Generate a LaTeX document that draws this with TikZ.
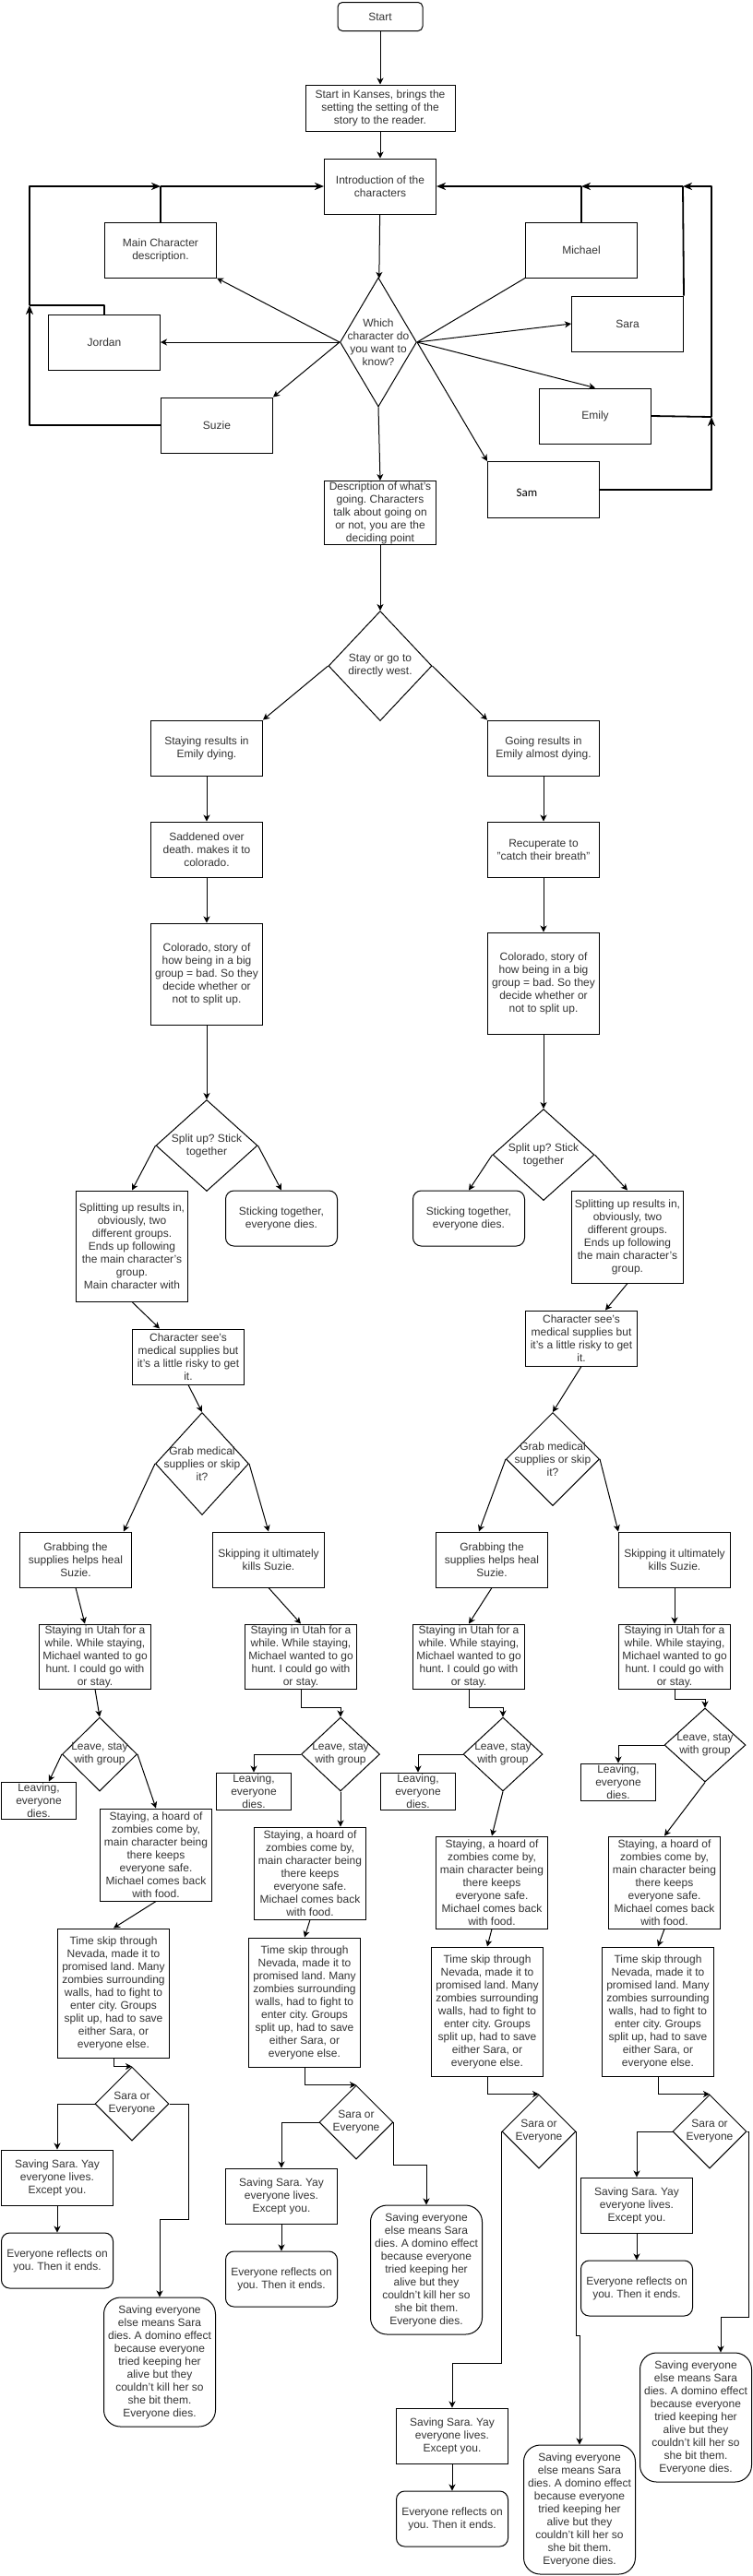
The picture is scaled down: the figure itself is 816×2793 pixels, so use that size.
\documentclass[tikz,border=0pt]{standalone}
\usepackage{fontspec}
\setmainfont{Liberation Sans}
\newfontfamily\samfont{Carlito}
\usetikzlibrary{shapes.geometric,arrows.meta}
\frenchspacing

\begin{document}
\begin{tikzpicture}[x=1pt,y=-1pt,line width=1pt,every node/.style={font=\bxfont,text=black!80},
        box/.style={draw,inner sep=0pt,minimum width=121pt,minimum height=60pt,align=center},
        rbox/.style={box,rounded corners=9pt},
        bigbox/.style={box,rounded corners=18pt,minimum height=140pt},
        dia/.style={draw,shape=diamond,inner sep=0pt},
        lab/.style={align=center},
        flow/.style={-{Stealth[length=7pt,width=7pt,inset=2pt]}},
        loopline/.style={line width=1.8pt,line join=round},
        loopflow/.style={loopline,-{Stealth[length=10pt,width=8pt,inset=3pt]}}]

\def\bxfont{\fontsize{12}{14}\selectfont}
\useasboundingbox (0,0) rectangle (816,2793);

        \node[rbox,minimum width=92pt,minimum height=31pt,rounded corners=5pt] (start) at (412,18) {Start};
        \node[box,minimum width=162pt,minimum height=50pt] (kanses) at (412,117) {Start in Kanses, brings the\\setting the setting of the\\story to the reader.};
        \node[box] (intro) at (412,202) {Introduction of the\\characters};
        \node[dia,minimum width=83pt,minimum height=140pt,label={[lab]center:{Which\\character do\\you want to\\know?}}] (which) at (410,371) {};
        \node[box] (maindesc) at (174,271) {Main Character\\description.};
        \node[box] (michael) at (630,271) {Michael};
        \node[box] (jordan) at (113,371) {Jordan};
        \node[box] (sara) at (680,351) {Sara};
        \node[box] (suzie) at (235,461) {Suzie};
        \node[box] (emily) at (645,451) {Emily};
        \node[box,minimum height=61pt,label={[lab,font=\samfont\fontsize{13}{15}\selectfont,text=black,xshift=-18pt,yshift=-3pt]center:Sam}] (sam) at (589,531) {};
        \node[box,minimum height=69pt] (desc) at (412,556) {Description of what's\\going. Characters\\talk about going on\\or not, you are the\\deciding point};

        \coordinate (lbot) at (32,461);
        \coordinate (ljoin) at (32,331);
        \coordinate (ltop) at (32,202);
        \coordinate (mjoin) at (174,202);
        \coordinate (rbot) at (771,531);
        \coordinate (rjoin) at (771,452);
        \coordinate (rtop) at (771,202);
        \coordinate (sjoin) at (740,202);
        \coordinate (mijoin) at (630,202);

        \draw[flow] (start) -- (kanses);
        \draw[flow] (kanses) -- (intro);
        \draw[flow] (intro) -- (which);
        \draw[flow] (which.west) -- (maindesc.south east);
        \draw[flow] (which.west) -- (jordan.east);
        \draw[flow] (which.west) -- (suzie.north east);
        \draw[flow] (which.south) -- (desc.north);
        \draw (which.east) -- (michael.south west);
        \draw[flow] (which.east) -- (sara.west);
        \draw[flow] (which.east) -- (emily.north);
        \draw[flow] (which.east) -- (sam.north west);

        \draw[loopflow] (suzie.west) -- (lbot) -- (ljoin);
        \draw[loopline] (jordan.north) |- (ljoin);
        \draw[loopflow] (ljoin) -- (ltop) -- (mjoin);
        \draw[loopline] (maindesc.north) -- (mjoin);
        \draw[loopflow] (mjoin) -- (intro.west);
        \draw[loopflow] (sam.east) -- (rbot) -- (rjoin);
        \draw[loopline] (emily.east) -- (rjoin);
        \draw[loopflow] (rjoin) -- (rtop) -- (sjoin);
        \draw[loopline] (sara.north east) -- (sjoin);
        \draw[loopflow] (sjoin) -- (mijoin);
        \draw[loopline] (michael.north) -- (mijoin);
        \draw[loopflow] (mijoin) -- (intro.east);

        \node[dia,minimum width=112pt,minimum height=119pt,label={[lab]center:{Stay or go to\\directly west.}}] (stay) at (412,722) {};
        \node[box] (staying) at (224,811) {Staying results in\\Emily dying.};
        \node[box] (going) at (589,811) {Going results in\\Emily almost dying.};
        \node[box] (sadden) at (224,921) {Saddened over\\death. makes it to\\colorado.};
        \node[box] (recup) at (589,921) {Recuperate to\\"catch their breath"};
        \node[box,minimum height=110pt] (colL) at (224,1056) {Colorado, story of\\how being in a big\\group = bad. So they\\decide whether or\\not to split up.};
        \node[box,minimum height=110pt] (colR) at (589,1066) {Colorado, story of\\how being in a big\\group = bad. So they\\decide whether or\\not to split up.};
        \node[dia,minimum width=110pt,minimum height=99pt,label={[lab]center:{Split up? Stick\\together}}] (splitL) at (224,1242) {};
        \node[dia,minimum width=110pt,minimum height=99pt,label={[lab]center:{Split up? Stick\\together}}] (splitR) at (589,1252) {};
        \node[box,minimum height=120pt] (splittingL) at (143,1351) {Splitting up results in,\\obviously, two\\different groups.\\Ends up following\\the main character's\\group.\\Main character with};
        \node[rbox] (stickL) at (305,1321) {Sticking together,\\everyone dies.};
        \node[rbox] (stickR) at (508,1321) {Sticking together,\\everyone dies.};
        \node[box,minimum height=100pt] (splittingR) at (680,1341) {Splitting up results in,\\obviously, two\\different groups.\\Ends up following\\the main character's\\group.};
        \node[box] (seeL) at (204,1471) {Character see's\\medical supplies but\\it's a little risky to get\\it.};
        \node[box] (seeR) at (630,1451) {Character see's\\medical supplies but\\it's a little risky to get\\it.};

        \draw[flow] (desc) -- (stay);
        \draw[flow] (stay.west) -- (staying.north east);
        \draw[flow] (stay.east) -- (going.north west);
        \draw[flow] (staying) -- (sadden);
        \draw[flow] (sadden) -- (colL);
        \draw[flow] (going) -- (recup);
        \draw[flow] (recup) -- (colR);
        \draw[flow] (colL) -- (splitL);
        \draw[flow] (colR) -- (splitR);
        \draw[flow] (splitL.west) -- (splittingL.north);
        \draw[flow] (splitL.east) -- (stickL.north);
        \draw[flow] (splitR.west) -- (stickR.north);
        \draw[flow] (splitR.east) -- (splittingR.north);
        \draw[flow] (splittingL.south) -- ([xshift=-31pt]seeL.north);
        \draw[flow] (splittingR.south) -- ([xshift=26pt]seeR.north);

        \node[dia,minimum width=101pt,minimum height=111pt,label={[lab]center:{Grab medical\\supplies or skip\\it?}}] (grabL) at (219,1587) {};
        \node[dia,minimum width=101pt,minimum height=101pt,label={[lab]center:{Grab medical\\supplies or skip\\it?}}] (grabR) at (599,1582) {};
        \node[box] (grabbingL) at (82,1691) {Grabbing the\\supplies helps heal\\Suzie.};
        \node[box] (skipL) at (291,1691) {Skipping it ultimately\\kills Suzie.};
        \node[box] (grabbingR) at (533,1691) {Grabbing the\\supplies helps heal\\Suzie.};
        \node[box] (skipR) at (731,1691) {Skipping it ultimately\\kills Suzie.};
        \node[box,minimum height=70pt] (utah1) at (103,1796) {Staying in Utah for a\\while. While staying,\\Michael wanted to go\\hunt. I could go with\\or stay.};
        \node[box,minimum height=70pt] (utah2) at (326,1796) {Staying in Utah for a\\while. While staying,\\Michael wanted to go\\hunt. I could go with\\or stay.};
        \node[box,minimum height=70pt] (utah3) at (508,1796) {Staying in Utah for a\\while. While staying,\\Michael wanted to go\\hunt. I could go with\\or stay.};
        \node[box,minimum height=70pt] (utah4) at (731,1796) {Staying in Utah for a\\while. While staying,\\Michael wanted to go\\hunt. I could go with\\or stay.};
        \node[dia,minimum width=81pt,minimum height=80pt,label={[lab]center:{Leave, stay\\with group}}] (leave1) at (108,1902) {};
        \node[dia,minimum width=85pt,minimum height=80pt,label={[lab]center:{Leave, stay\\with group}}] (leave2) at (369,1902) {};
        \node[dia,minimum width=86pt,minimum height=80pt,label={[lab]center:{Leave, stay\\with group}}] (leave3) at (545,1902) {};
        \node[dia,minimum width=88pt,minimum height=80pt,label={[lab]center:{Leave, stay\\with group}}] (leave4) at (764,1892) {};
        \node[box,minimum width=81pt,minimum height=40pt] (lv1) at (42,1952) {Leaving,\\everyone\\dies.};
        \node[box,minimum width=81pt,minimum height=40pt] (lv2) at (275,1942) {Leaving,\\everyone\\dies.};
        \node[box,minimum width=81pt,minimum height=40pt] (lv3) at (453,1942) {Leaving,\\everyone\\dies.};
        \node[box,minimum width=81pt,minimum height=40pt] (lv4) at (670,1932) {Leaving,\\everyone\\dies.};

        \draw[flow] (seeL.south) -- (grabL.north);
        \draw[flow] (seeR.south) -- (grabR.north);
        \draw[flow] (grabL.west) -- ([xshift=52pt]grabbingL.north);
        \draw[flow] (grabL.east) -- (skipL.north);
        \draw[flow] (grabR.west) -- ([xshift=-14pt]grabbingR.north);
        \draw[flow] (grabR.east) -- (skipR.north west);
        \draw[flow] (grabbingL.south) -- ([xshift=-11pt]utah1.north);
        \draw[flow] (skipL.south) -- (utah2.north);
        \draw[flow] (grabbingR.south) -- (utah3.north);
        \draw[flow] (skipR.south) -- (utah4.north);
        \draw[flow] (utah1.south) -- (leave1.north);
        \draw[flow] (utah2.south) -- ++(0,20) -| (leave2.north);
        \draw[flow] (utah3.south) -- ++(0,20) -| (leave3.north);
        \draw[flow] (utah4.south) -- ++(0,11) -| (leave4.north);
        \draw[flow] (leave1.west) -- ([xshift=11pt]lv1.north);
        \draw[flow] (leave2.west) -| (lv2.north);
        \draw[flow] (leave3.west) -| (lv3.north);
        \draw[flow] (leave4.west) -| (lv4.north);

        \node[box,minimum height=100pt] (hoard1) at (169,2011) {Staying, a hoard of\\zombies come by,\\main character being\\there keeps\\everyone safe.\\Michael comes back\\with food.};
        \node[box,minimum height=100pt] (hoard2) at (336,2031) {Staying, a hoard of\\zombies come by,\\main character being\\there keeps\\everyone safe.\\Michael comes back\\with food.};
        \node[box,minimum height=100pt] (hoard3) at (533,2041) {Staying, a hoard of\\zombies come by,\\main character being\\there keeps\\everyone safe.\\Michael comes back\\with food.};
        \node[box,minimum height=100pt] (hoard4) at (720,2041) {Staying, a hoard of\\zombies come by,\\main character being\\there keeps\\everyone safe.\\Michael comes back\\with food.};
        \node[box,minimum height=140pt] (time1) at (123,2161) {Time skip through\\Nevada, made it to\\promised land. Many\\zombies surrounding\\walls, had to fight to\\enter city. Groups\\split up, had to save\\either Sara, or\\everyone else.};
        \node[box,minimum height=140pt] (time2) at (330,2171) {Time skip through\\Nevada, made it to\\promised land. Many\\zombies surrounding\\walls, had to fight to\\enter city. Groups\\split up, had to save\\either Sara, or\\everyone else.};
        \node[box,minimum height=140pt] (time3) at (528,2181) {Time skip through\\Nevada, made it to\\promised land. Many\\zombies surrounding\\walls, had to fight to\\enter city. Groups\\split up, had to save\\either Sara, or\\everyone else.};
        \node[box,minimum height=140pt] (time4) at (713,2181) {Time skip through\\Nevada, made it to\\promised land. Many\\zombies surrounding\\walls, had to fight to\\enter city. Groups\\split up, had to save\\either Sara, or\\everyone else.};

        \draw[flow] (leave1.east) -- (hoard1.north);
        \draw[flow] (leave2.south) -- (leave2.south |- hoard2.north);
        \draw[flow] (leave3.south) -- (hoard3.north);
        \draw[flow] (leave4.south) -- (hoard4.north);
        \draw[flow] (hoard1.south) -- (time1.north);
        \draw[flow] (hoard2.south) -- (time2.north);
        \draw[flow] (hoard3.south) -- (time3.north);
        \draw[flow] (hoard4.south) -- (time4.north);

        \node[dia,minimum width=80pt,minimum height=80pt,label={[lab]center:{Sara or\\Everyone}}] (sara1) at (143,2281) {};
        \node[dia,minimum width=80pt,minimum height=80pt,label={[lab]center:{Sara or\\Everyone}}] (sara2) at (386,2301) {};
        \node[dia,minimum width=80pt,minimum height=80pt,label={[lab]center:{Sara or\\Everyone}}] (sara3) at (584,2311) {};
        \node[dia,minimum width=80pt,minimum height=80pt,label={[lab]center:{Sara or\\Everyone}}] (sara4) at (769,2311) {};
        \node[box] (savesara1) at (62,2361) {Saving Sara. Yay\\everyone lives.\\Except you.};
        \node[box] (savesara2) at (305,2381) {Saving Sara. Yay\\everyone lives.\\Except you.};
        \node[box] (savesara3) at (490,2641) {Saving Sara. Yay\\everyone lives.\\Except you.};
        \node[box] (savesara4) at (690,2391) {Saving Sara. Yay\\everyone lives.\\Except you.};
        \node[rbox] (reflect1) at (62,2451) {Everyone reflects on\\you. Then it ends.};
        \node[rbox] (reflect2) at (305,2471) {Everyone reflects on\\you. Then it ends.};
        \node[rbox] (reflect3) at (490,2731) {Everyone reflects on\\you. Then it ends.};
        \node[rbox] (reflect4) at (690,2481) {Everyone reflects on\\you. Then it ends.};
        \node[bigbox] (saveall1) at (173,2561) {Saving everyone\\else means Sara\\dies. A domino effect\\because everyone\\tried keeping her\\alive but they\\couldn't kill her so\\she bit them.\\Everyone dies.};
        \node[bigbox] (saveall2) at (462,2461) {Saving everyone\\else means Sara\\dies. A domino effect\\because everyone\\tried keeping her\\alive but they\\couldn't kill her so\\she bit them.\\Everyone dies.};
        \node[bigbox] (saveall3) at (628,2721) {Saving everyone\\else means Sara\\dies. A domino effect\\because everyone\\tried keeping her\\alive but they\\couldn't kill her so\\she bit them.\\Everyone dies.};
        \node[bigbox] (saveall4) at (754,2621) {Saving everyone\\else means Sara\\dies. A domino effect\\because everyone\\tried keeping her\\alive but they\\couldn't kill her so\\she bit them.\\Everyone dies.};

        \draw[flow] (time1.south) |- (sara1.north);
        \draw[flow] (time2.south) |- (sara2.north);
        \draw[flow] (time3.south) |- (sara3.north);
        \draw[flow] (time4.south) |- (sara4.north);
        \draw[flow] (sara1.west) -| (savesara1.north);
        \draw[flow] (sara2.west) -| (savesara2.north);
        \draw[flow] (sara3.west) -- ++(0,251) -| (savesara3.north);
        \draw[flow] (sara4.west) -| (savesara4.north);
        \draw[flow] (sara1.east) -- ++(21,0) -- ++(0,125) -| (saveall1.north);
        \draw[flow] (sara2.east) -- ++(0,46) -| (saveall2.north);
        \draw[flow] (sara3.east) -- ++(0,221) -| (saveall3.north);
        \draw[flow] (sara4.east) -- ++(2,0) -- ++(0,201) -| ([xshift=27pt]saveall4.north);
        \draw[flow] (savesara1) -- (reflect1);
        \draw[flow] (savesara2) -- (reflect2);
        \draw[flow] (savesara3) -- (reflect3);
        \draw[flow] (savesara4) -- (reflect4);
\end{tikzpicture}
\end{document}
